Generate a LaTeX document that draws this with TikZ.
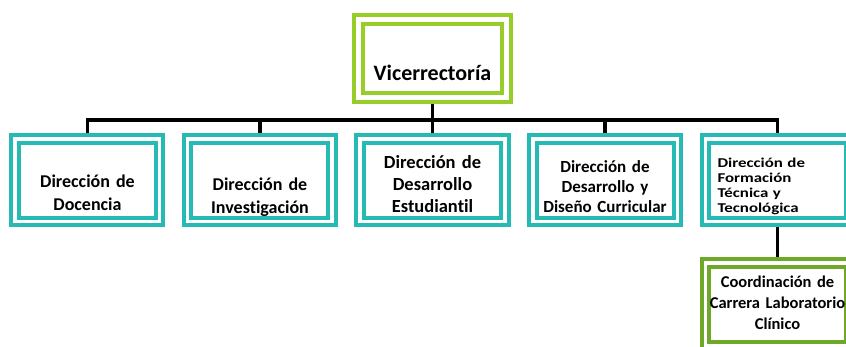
\documentclass[tikz,border=0pt]{standalone}
\usepackage{fontspec}
\setmainfont{Carlito}[Ligatures={NoCommon}]
\newfontfamily\widefont[FakeStretch=1.25,Ligatures={NoCommon}]{Carlito}
\usepackage{tikz}
\pgfdeclarelayer{background}
\pgfsetlayers{background,main}
\definecolor{dirteal}{RGB}{38,186,180}
\definecolor{vicegreen}{RGB}{150,205,40}
\definecolor{coordgreen}{RGB}{110,168,40}

\begin{document}
\begin{tikzpicture}[node distance=172.5pt]
\tikzstyle{orgbox}=[rectangle, fill=white, line width=4pt, double=white, double distance=3.5pt, inner sep=2pt]
\tikzstyle{dir}=[orgbox, draw=dirteal, minimum width=144.5pt, minimum height=82.5pt, text width=140pt, align=center, text height=14pt]
\tikzstyle{link}=[draw=black, line width=3.5pt]
\path[use as bounding box, clip] (-432.5pt,-287.5pt) rectangle (413.5pt,58.5pt);

\node[orgbox, draw=vicegreen, double distance=5pt, minimum width=148pt, minimum height=78pt, text height=45pt, text depth=2pt, font=\bfseries\fontsize{22}{26}\selectfont] (vice) {Vicerrectoría};
\node[dir, below of=vice, node distance=121.5pt, text depth=38pt, font=\bfseries\fontsize{18.5}{22}\selectfont] (d3) {Dirección de\\Desarrollo\\Estudiantil};
\node[dir, left of=d3, text height=34pt, text depth=14pt, font=\bfseries\fontsize{18}{23}\selectfont] (d2) {Dirección de\\Investigación};
\node[dir, left of=d2, text height=28pt, text depth=14pt, font=\bfseries\fontsize{18}{23}\selectfont] (d1) {Dirección de\\Docencia};
\node[dir, right of=d3, text depth=30pt, font=\bfseries\fontsize{17}{20}\selectfont] (d4) {Dirección de\\Desarrollo y\\Diseño Curricular};
\node[dir, right of=d4, text width=120pt, inner xsep=12pt, align=left, text depth=40pt, font=\widefont\bfseries\fontsize{13.5}{15}\selectfont] (d5) {Dirección de\\Formación\\Técnica y\\Tecnológica};
\node[dir, draw=coordgreen, below of=d5, node distance=124pt, text depth=48pt, font=\bfseries\fontsize{16.5}{21}\selectfont] (coord) {Coordinación de\\Carrera Laboratorio\\Clínico};

\begin{pgfonlayer}{background}
\draw[link] (vice.south) -- ++(0,-20.5pt) -| (d1.north)
            (vice.south) -- ++(0,-20.5pt) -| (d2.north)
            (vice.south) -- (d3.north)
            (vice.south) -- ++(0,-20.5pt) -| (d4.north)
            (vice.south) -- ++(0,-20.5pt) -| (d5.north)
            (d5.south) -- (coord.north);
\end{pgfonlayer}

\end{tikzpicture}
\end{document}
